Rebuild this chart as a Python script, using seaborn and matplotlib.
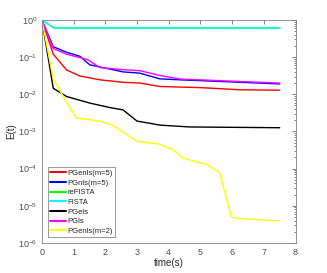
import numpy as np
import pandas as pd
import matplotlib
matplotlib.use("Agg")
import matplotlib.pyplot as plt
import seaborn as sns
from matplotlib.ticker import LogLocator, NullFormatter

labels = ["PGenls(m=5)", "PGnls(m=5)", "reFISTA", "FISTA", "PGels", "PGls", "PGenls(m=2)"]
colors = ["#ff0000", "#0000ff", "#00ff00", "#00ffff", "#000000", "#ff00ff", "#ffff00"]

t_red = [0, 0.36, 0.78, 1.2, 1.83, 2.56, 3.1, 3.72, 4.98, 6.25, 7.5]
e_red = [1.0, 0.12, 0.045, 0.031, 0.0245, 0.021, 0.020, 0.0162, 0.0151, 0.0132, 0.0129]

t_blue = [0, 0.36, 0.78, 1.2, 1.51, 1.93, 2.56, 3.09, 3.72, 4.35, 7.5]
e_blue = [1.0, 0.19, 0.135, 0.105, 0.062, 0.052, 0.040, 0.037, 0.026, 0.0245, 0.019]

t_green = [0, 0.38, 7.5]
e_green = [1.0, 0.61, 0.61]

t_cyan = [0, 0.38, 7.5]
e_cyan = [1.0, 0.61, 0.61]

t_black = [0, 0.36, 0.78, 1.51, 2.14, 2.56, 3.0, 3.4, 3.72, 4.67, 7.5]
e_black = [1.0, 0.0145, 0.0087, 0.0058, 0.0044, 0.0038, 0.0019, 0.00166, 0.00148, 0.00132, 0.00126]

t_mag = [0, 0.36, 0.78, 1.45, 1.83, 2.56, 3.1, 3.72, 4.35, 7.5]
e_mag = [1.0, 0.17, 0.12, 0.085, 0.052, 0.046, 0.043, 0.032, 0.0257, 0.020]

t_yel = [0, 0.36, 0.78, 1.09, 1.83, 2.25, 2.67, 2.99, 3.72, 4.14, 4.46, 5.2, 5.6, 5.98, 6.35, 7.5]
e_yel = [1.0, 0.026, 0.006, 0.0023, 0.0019, 0.00145, 0.00083, 0.00055, 0.00045, 0.00032, 0.00019,
         0.000129, 0.000079, 4.9e-06, 4.5e-06, 3.9e-06]

yticks = [1e-6, 1e-5, 1e-4, 1e-3, 1e-2, 1e-1, 1e0]
xticks = [0, 1, 2, 3, 4, 5, 6, 7, 8]

series = [(t_red, e_red), (t_blue, e_blue), (t_green, e_green), (t_cyan, e_cyan),
          (t_black, e_black), (t_mag, e_mag), (t_yel, e_yel)]

frames = []
for lab, (t, e) in zip(labels, series):
    frames.append(pd.DataFrame({"time": t, "E": e, "method": lab}))
df = pd.concat(frames, ignore_index=True)

sns.set_style("white")
plt.rcParams["font.family"] = ["Liberation Sans", "DejaVu Sans"]

fig = plt.figure(figsize=(3.27, 2.73), dpi=100)
ax = fig.add_axes([0.128, 0.110, 0.776, 0.817])

sns.lineplot(data=df, x="time", y="E", hue="method", hue_order=labels,
             palette=dict(zip(labels, colors)), ax=ax, linewidth=1.0,
             estimator=None, sort=False)

ax.set_yscale("log")
ax.set_xlim(0, 8)
ax.set_ylim(1e-6, 1)
ax.set_xticks(xticks)
ax.set_yticks(yticks)
ax.yaxis.set_minor_locator(LogLocator(base=10, subs=np.arange(2, 10), numticks=10))
ax.yaxis.set_minor_formatter(NullFormatter())

gray = "#4d4d4d"
for s in ax.spines.values():
    s.set_color("#808080")
    s.set_linewidth(0.6)
ax.tick_params(axis="both", which="both", direction="in", top=True, right=True,
               colors=gray, labelsize=6.5, width=0.5)
ax.tick_params(which="major", length=3)
ax.tick_params(which="minor", length=1.5)
ax.tick_params(axis="x", which="minor", bottom=False, top=False)
for lab in ax.get_xticklabels() + ax.get_yticklabels():
    lab.set_color(gray)

ax.set_xlabel("time(s)", fontsize=7, color="#262626", labelpad=1)
ax.set_ylabel("E(t)", fontsize=7, color="#262626", labelpad=1)

leg = ax.legend(loc="lower left", fontsize=5.5, frameon=True, fancybox=False,
                handlelength=2.1, handletextpad=0.2, labelspacing=0.3,
                borderpad=0.3, borderaxespad=0.75)
leg.get_frame().set_edgecolor("#4d4d4d")
leg.get_frame().set_linewidth(0.5)
for line in leg.get_lines():
    line.set_linewidth(1.5)

fig.savefig("out.png", dpi=100)
